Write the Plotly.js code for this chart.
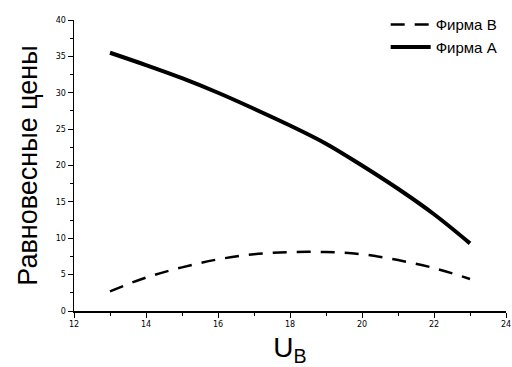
<!DOCTYPE html>
<html>
<head>
<meta charset="utf-8">
<script src="https://cdn.plot.ly/plotly-3.0.1.min.js"></script>
<style>html,body{margin:0;padding:0;background:#fff;}#chart{width:512px;height:367px;}</style>
</head>
<body>
<div id="chart"></div>
<script>
const uB = [13, 14, 15, 16, 17, 18, 19, 20, 21, 22, 23];
const firmA = [35.5, 33.8, 32.0, 30.0, 27.8, 25.5, 23.0, 20.0, 16.8, 13.3, 9.3];
const firmB = [2.7, 4.6, 6.0, 7.1, 7.8, 8.1, 8.1, 7.8, 7.0, 5.9, 4.4];
const nameA = "Фирма A";
const nameB = "Фирма B";

const traces = [
  {x: uB, y: firmB, name: nameB, mode: "lines", line: {color: "#000", width: 2.5, dash: "14px,10px", shape: "spline"}},
  {x: uB, y: firmA, name: nameA, mode: "lines", line: {color: "#000", width: 4, shape: "spline"}}
];
const axisCommon = {
  showgrid: false, zeroline: false, showline: true, linecolor: "#000", linewidth: 1.5,
  ticks: "outside", ticklen: 5, tickwidth: 1, tickcolor: "#000",
  tickfont: {family: "DejaVu Sans", size: 8, color: "#000"},
  minor: {ticks: "outside", ticklen: 3, tickwidth: 1, tickcolor: "#000"}
};
const layout = {
  width: 512, height: 367,
  margin: {l: 74, r: 6, t: 20, b: 56},
  paper_bgcolor: "#fff", plot_bgcolor: "#fff",
  showlegend: true,
  legend: {x: 0.99, xanchor: "right", y: 1.04, yanchor: "top", bgcolor: "rgba(0,0,0,0)",
           font: {family: "Liberation Sans", size: 15, color: "#000"}, tracegroupgap: 0, itemwidth: 40},
  xaxis: Object.assign({}, axisCommon, {range: [12, 24], dtick: 2, tick0: 12,
    minor: Object.assign({}, axisCommon.minor, {dtick: 1}),
    title: {text: "U<sub>B</sub>", font: {family: "Liberation Sans", size: 28, color: "#000"}, standoff: 11}}),
  yaxis: Object.assign({}, axisCommon, {range: [0, 40], dtick: 5, tick0: 0,
    minor: Object.assign({}, axisCommon.minor, {dtick: 2.5}),
    title: {text: "Равновесные цены", font: {family: "Liberation Sans", size: 27, color: "#000"}, standoff: 10}})
};
Plotly.newPlot("chart", traces, layout, {displayModeBar: false, staticPlot: true});
</script>
</body>
</html>
